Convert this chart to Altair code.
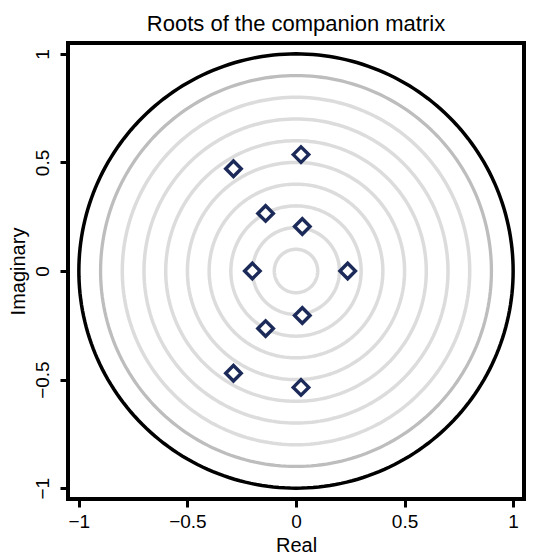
import altair as alt
import numpy as np
import pandas as pd

# Eigenvalues (roots of the companion matrix)
real_part = [0.023, 0.023, -0.288, -0.288, -0.140, -0.140, 0.029, 0.029, -0.201, 0.238]
imag_part = [0.536, -0.536, 0.471, -0.471, 0.265, -0.265, 0.205, -0.205, 0.0, 0.0]

# Reference circles
light_radii = [0.1, 0.2, 0.3, 0.4, 0.5, 0.6, 0.7, 0.8]
mid_radii = [0.9]
unit_radii = [1.0]

tick_values = [-1, -0.5, 0, 0.5, 1]

FONT = "Liberation Sans"
NAVY = "#1b2a58"
DOM = [-1.05, 1.05]


def circle_frame(radii):
    angles = np.linspace(0, 2 * np.pi, 241)
    rows = []
    for r in radii:
        for i, a in enumerate(angles):
            rows.append({"r": r, "i": i, "x": r * np.cos(a), "y": r * np.sin(a)})
    return pd.DataFrame(rows)


pts = pd.DataFrame({"Real": real_part, "Imaginary": imag_part})

label_expr = "replace(format(datum.value, '~g'), '-', '\u2212')"

xenc = alt.X(
    "x:Q",
    scale=alt.Scale(domain=DOM, nice=False, zero=False),
    axis=alt.Axis(values=tick_values, labelExpr=label_expr, title="Real",
                  labelPadding=5, titlePadding=4),
)
yenc = alt.Y(
    "y:Q",
    scale=alt.Scale(domain=DOM, nice=False, zero=False),
    axis=alt.Axis(values=tick_values, labelExpr=label_expr, title="Imaginary",
                  labelAngle=-90, labelAlign="center", labelBaseline="alphabetic",
                  labelPadding=11.5, titlePadding=5.5),
)


def circles(radii, color, width):
    return alt.Chart(circle_frame(radii)).mark_line(
        color=color, strokeWidth=width
    ).encode(x=xenc, y=yenc, detail="r:N", order="i:Q")


light = circles(light_radii, "#dcdcdc", 3.5)
mid = circles(mid_radii, "#bdbdbd", 3.3)
unit = circles(unit_radii, "#000000", 3.5)

points = alt.Chart(pts).mark_point(
    shape="diamond", size=240, filled=True, fill="white", fillOpacity=1,
    stroke=NAVY, strokeWidth=3.4, strokeOpacity=1, opacity=1
).encode(
    x=alt.X("Real:Q", scale=alt.Scale(domain=DOM, nice=False, zero=False)),
    y=alt.Y("Imaginary:Q", scale=alt.Scale(domain=DOM, nice=False, zero=False)),
)

chart = alt.layer(light, mid, unit, points).properties(
    width=456,
    height=456,
    padding={"left": 0, "top": 5, "right": 5, "bottom": 5},
    title=alt.TitleParams(
        "Roots of the companion matrix", fontSize=22, font=FONT,
        fontWeight="normal", color="black", offset=7,
    ),
).configure_view(
    stroke="black", strokeWidth=4
).configure_axis(
    domain=False, grid=False, tickColor="black", tickWidth=3, tickSize=8,
    labelFont=FONT, labelFontSize=19, labelColor="black",
    titleFont=FONT, titleFontSize=20, titleFontWeight="normal", titleColor="black",
)

chart.save("out.html", embed_options={"renderer": "svg", "actions": False})
